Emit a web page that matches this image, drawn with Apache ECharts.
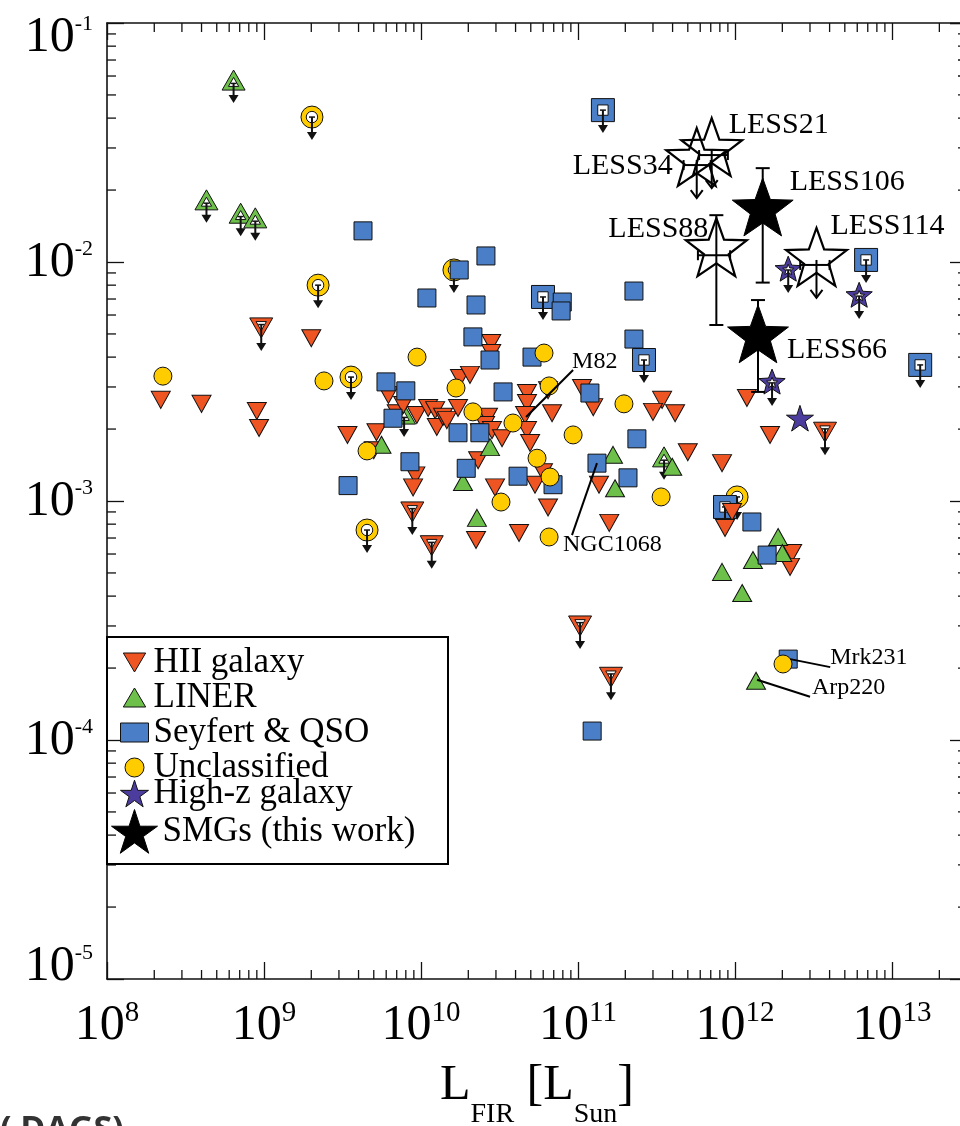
<!DOCTYPE html>
<html><head><meta charset="utf-8">
<script src="https://cdn.jsdelivr.net/npm/echarts@6/dist/echarts.min.js"></script>
<style>html,body{margin:0;padding:0;background:#fff;overflow:hidden}#chart{width:960px;height:1126px}</style>
</head><body><div id="chart"></div>
<script>
// ================= DATA =================
// HII galaxies (detections)
const hiiL = [2.2e8, 4.0e8, 9.0e8, 9.3e8, 2.0e9, 3.4e9, 5.2e9, 5.0e9, 6.2e9, 7.0e9, 7.7e9, 9.4e9, 1.11e10, 1.23e10, 1.26e10, 1.38e10, 1.46e10, 1.72e10, 1.77e10, 2.05e10, 2.8e10, 2.8e10, 2.67e10, 2.56e10, 2.37e10, 2.83e10, 3.28e10, 4.73e10, 4.73e10, 4.6e10, 4.73e10, 4.95e10, 6.44e10, 6.83e10, 1.06e11, 1.25e11, 2.31e10, 9.2e9, 8.9e9, 2.96e10, 5.98e10, 5.32e10, 6.44e10, 4.21e10, 2.24e10, 1.36e11, 1.58e11, 3.43e11, 3.0e11, 4.15e11, 5.0e11, 8.26e11, 1.19e12, 1.67e12, 9.57e11, 8.63e11, 2.31e12, 2.24e12];
const hiiR = [2.65e-3, 2.55e-3, 2.38e-3, 2.02e-3, 4.8e-3, 1.89e-3, 1.94e-3, 1.63e-3, 2.78e-3, 2.33e-3, 2.52e-3, 2.29e-3, 2.45e-3, 2.40e-3, 2.04e-3, 2.25e-3, 2.18e-3, 2.45e-3, 3.27e-3, 3.37e-3, 4.58e-3, 4.16e-3, 2.25e-3, 2.08e-3, 1.94e-3, 1.98e-3, 1.83e-3, 2.83e-3, 2.57e-3, 2.29e-3, 1.98e-3, 1.75e-3, 2.91e-3, 2.33e-3, 2.97e-3, 2.47e-3, 1.48e-3, 1.28e-3, 1.14e-3, 1.14e-3, 1.32e-3, 1.17e-3, 9.4e-4, 7.35e-4, 6.87e-4, 1.17e-3, 8.1e-4, 2.65e-3, 2.36e-3, 2.33e-3, 1.60e-3, 1.44e-3, 2.70e-3, 1.89e-3, 9.0e-4, 7.71e-4, 6.06e-4, 5.3e-4];
// HII galaxies (upper limits)
const hiiUlL = [9.6e8, 8.8e9, 1.17e10, 1.03e11, 1.62e11, 3.74e12];
const hiiUlR = [5.3e-3, 9.0e-4, 6.5e-4, 3.0e-4, 1.83e-4, 1.94e-3];
// LINERs
const linerL = [5.6e9, 2.75e10, 1.85e10, 2.27e10, 1.67e11, 1.72e11, 3.98e11, 1.88e12, 2.0e12, 1.30e12, 8.26e11, 1.11e12, 1.36e12];
const linerR = [1.72e-3, 1.68e-3, 1.2e-3, 8.5e-4, 1.56e-3, 1.13e-3, 1.39e-3, 7.07e-4, 6.06e-4, 5.66e-4, 5.05e-4, 4.12e-4, 1.77e-4];
const linerUlL = [6.4e8, 4.3e8, 7.1e8, 8.8e8, 7.8e9, 3.53e11];
const linerUlR = [5.77e-2, 1.82e-2, 1.60e-2, 1.53e-2, 2.31e-3, 1.53e-3];
// Seyferts & QSOs
const seyL = [4.27e9, 2.59e10, 1.75e10, 1.09e10, 2.24e10, 7.93e10, 7.8e10, 2.27e11, 2.14e10, 2.75e10, 5.09e10, 2.27e11, 5.98e9, 8.0e9, 6.63e9, 3.33e10, 1.19e11, 1.72e10, 2.37e10, 8.5e9, 1.94e10, 4.15e10, 6.93e10, 1.32e11, 2.08e11, 2.37e11, 3.43e9, 1.28e12, 1.6e12, 1.23e11, 2.18e12];
const seyR = [1.35e-2, 1.06e-2, 9.26e-3, 7.07e-3, 6.61e-3, 6.8e-3, 6.24e-3, 7.56e-3, 4.86e-3, 3.89e-3, 4.0e-3, 4.76e-3, 3.15e-3, 2.89e-3, 2.22e-3, 2.86e-3, 2.83e-3, 1.93e-3, 1.93e-3, 1.46e-3, 1.37e-3, 1.27e-3, 1.17e-3, 1.44e-3, 1.25e-3, 1.82e-3, 1.16e-3, 8.17e-4, 5.94e-4, 1.09e-4, 2.18e-4];
const seyUlL = [1.44e11, 5.98e10, 2.63e11, 8.63e11, 6.83e12, 1.51e13];
const seyUlR = [4.32e-2, 7.14e-3, 3.89e-3, 9.44e-4, 1.02e-2, 3.71e-3];
// Unclassified
const uncL = [2.27e8, 2.41e9, 9.43e9, 4.53e9, 1.67e10, 2.14e10, 3.85e10, 6.07e10, 6.54e10, 9.3e10, 5.48e10, 6.63e10, 3.23e10, 6.54e10, 1.96e11, 3.38e11, 2.02e12];
const uncR = [3.33e-3, 3.18e-3, 4.0e-3, 1.62e-3, 2.97e-3, 2.36e-3, 2.12e-3, 4.16e-3, 3.03e-3, 1.89e-3, 1.51e-3, 1.26e-3, 9.9e-4, 7.07e-4, 2.55e-3, 1.04e-3, 2.08e-4];
const uncUlL = [2.02e9, 2.21e9, 3.58e9, 1.62e10, 4.53e9, 1.03e12];
const uncUlR = [4.04e-2, 8.0e-3, 3.3e-3, 9.26e-3, 7.56e-4, 1.04e-3];
// High-z galaxies
const hzL = [2.59e12];
const hzR = [2.22e-3];
const hzUlL = [2.18e12, 6.17e12, 1.72e12];
const hzUlR = [9.26e-3, 7.2e-3, 3.12e-3];
// SMGs (this work)
const smgNames = ['LESS21', 'LESS34', 'LESS106', 'LESS88', 'LESS114', 'LESS66'];
const smgL     = [7.1e11, 5.7e11, 1.5e12, 7.6e11, 3.3e12, 1.4e12];
const smgR     = [2.94e-2, 2.67e-2, 1.65e-2, 1.12e-2, 1.02e-2, 4.86e-3];
const smgRLo   = [null, null, 8.2e-3, 5.45e-3, null, 2.86e-3];
const smgRHi   = [null, null, 2.47e-2, 1.57e-2, null, 6.93e-3];
const smgLLo   = [5.9e11, 4.7e11, null, 5.8e11, 2.6e12, null];
const smgLHi   = [9.0e11, 7.0e11, null, 9.3e11, 4.0e12, null];
const smgUpper = [true, true, false, false, true, false];
const smgFilled = [false, false, true, false, false, true];
// Named local galaxies
const annNames = ['M82', 'NGC1068', 'Mrk231', 'Arp220'];
const annL = [4.6e10, 1.32e11, 2.18e12, 1.36e12];
const annR = [2.29e-3, 1.44e-3, 2.18e-4, 1.77e-4];
// Axis ticks
const xTickExps = [8, 9, 10, 11, 12, 13];
const yTickExps = [-5, -4, -3, -2, -1];
const minorMult = [2, 3, 4, 5, 6, 7, 8, 9];

// ================= STYLE =================
const SERIF = '"Liberation Serif", "Times New Roman", Times, serif';
const C = {hii: '#EE5522', liner: '#6DC04A', sey: '#4A7EC6', unc: '#FFCC00', hz: '#4B3C9E'};
const INK = '#111';
const STAR_PATH = 'path://M0,-1L0.2245,-0.309L0.951,-0.309L0.363,0.118L0.588,0.809L0,0.382L-0.588,0.809L-0.363,0.118L-0.951,-0.309L-0.2245,-0.309Z';
const TRI_DOWN = 'path://M0,0L20,0L10,17Z';
const TRI_UP = 'path://M10,0L20,17L0,17Z';
// SMG label offsets [dx, dy, align]
const smgLabelPos = [[17, -25, 'left'], [-24, 6, 'right'], [27, -28, 'left'], [-8, -21, 'right'], [14, -34, 'left'], [29, 13, 'left']];
// annotation label offsets [textDx, textDy, lineStartDx, lineStartDy, lineEndDx, lineEndDy]
const annPos = [[47, -53, 1, 2, 48, -45], [-34, 82, 0, 0, -25, 72], [42, -1, 2, 0, 42, 8], [56, 7, 1, -1, 54, 16]];

function zip(a, b) { return a.map((v, i) => [v, b[i]]); }
function starPts(cx, cy, R, r) {
  const pts = [];
  for (let i = 0; i < 10; i++) {
    const ang = -Math.PI / 2 + i * Math.PI / 5;
    const rad = i % 2 === 0 ? R : r;
    pts.push([cx + rad * Math.cos(ang), cy + rad * Math.sin(ang)]);
  }
  return pts;
}
function shapePts(shape, cx, cy, s) {
  const h = s / 2;
  if (shape === 'down') return [[cx - h, cy - h * 0.87], [cx + h, cy - h * 0.87], [cx, cy + h * 0.87]];
  if (shape === 'up') return [[cx, cy - h * 0.87], [cx + h, cy + h * 0.87], [cx - h, cy + h * 0.87]];
  if (shape === 'square') return [[cx - h, cy - h], [cx + h, cy - h], [cx + h, cy + h], [cx - h, cy + h]];
  return starPts(cx, cy, h * 1.15, h * 0.5);
}
function shrink(pts, k) {
  let mx = 0, my = 0;
  pts.forEach(p => { mx += p[0]; my += p[1]; });
  mx /= pts.length; my /= pts.length;
  return {c: [mx, my], pts: pts.map(p => [mx + (p[0] - mx) * k, my + (p[1] - my) * k])};
}
function ulRender(shape, color, size) {
  return function (params, api) {
    const p = api.coord([api.value(0), api.value(1)]);
    const cx = p[0], cy = p[1];
    const kids = [];
    let ax = cx, ay = cy;
    if (shape === 'circle') {
      kids.push({type: 'circle', shape: {cx: cx, cy: cy, r: size / 2}, style: {fill: color, stroke: INK, lineWidth: 1}});
      kids.push({type: 'circle', shape: {cx: cx, cy: cy, r: size * 0.26}, style: {fill: '#fff', stroke: INK, lineWidth: 1}});
    } else {
      const outer = shapePts(shape, cx, cy, size);
      const inner = shrink(outer, shape === 'star' ? 0.42 : 0.45);
      ax = inner.c[0]; ay = inner.c[1];
      kids.push({type: 'polygon', shape: {points: outer}, style: {fill: color, stroke: INK, lineWidth: 1}});
      kids.push({type: 'polygon', shape: {points: inner.pts}, style: {fill: '#fff', stroke: INK, lineWidth: 1}});
    }
    kids.push({type: 'line', shape: {x1: ax, y1: ay, x2: ax, y2: cy + 17}, style: {stroke: INK, lineWidth: 2}});
    kids.push({type: 'line', shape: {x1: ax - 3, y1: ay, x2: ax + 3, y2: ay}, style: {stroke: INK, lineWidth: 1.5}});
    kids.push({type: 'polygon', shape: {points: [[ax - 5, cy + 15], [ax + 5, cy + 15], [ax, cy + 23]]}, style: {fill: INK}});
    return {type: 'group', children: kids};
  };
}
function smgRender(params, api) {
  const i = api.value(2);
  const p = api.coord([smgL[i], smgR[i]]);
  const cx = p[0], cy = p[1];
  const kids = [];
  const lw = 2;
  if (smgRLo[i] != null) {
    const yHi = api.coord([smgL[i], smgRHi[i]])[1];
    const yLo = api.coord([smgL[i], smgRLo[i]])[1];
    kids.push({type: 'line', shape: {x1: cx, y1: yHi, x2: cx, y2: yLo}, style: {stroke: '#000', lineWidth: lw}});
    kids.push({type: 'line', shape: {x1: cx - 7, y1: yHi, x2: cx + 7, y2: yHi}, style: {stroke: '#000', lineWidth: lw}});
    kids.push({type: 'line', shape: {x1: cx - 7, y1: yLo, x2: cx + 7, y2: yLo}, style: {stroke: '#000', lineWidth: lw}});
  }
  if (smgLLo[i] != null) {
    const xLo = api.coord([smgLLo[i], smgR[i]])[0];
    const xHi = api.coord([smgLHi[i], smgR[i]])[0];
    const yy = cy + 5;
    kids.push({type: 'line', shape: {x1: xLo, y1: yy, x2: xHi, y2: yy}, style: {stroke: '#000', lineWidth: lw}});
    kids.push({type: 'line', shape: {x1: xLo, y1: yy - 5, x2: xLo, y2: yy + 5}, style: {stroke: '#000', lineWidth: lw}});
    kids.push({type: 'line', shape: {x1: xHi, y1: yy - 5, x2: xHi, y2: yy + 5}, style: {stroke: '#000', lineWidth: lw}});
  }
  if (smgUpper[i]) {
    const tip = cy + 38;
    kids.push({type: 'line', shape: {x1: cx, y1: cy, x2: cx, y2: tip}, style: {stroke: '#000', lineWidth: lw}});
    kids.push({type: 'polyline', shape: {points: [[cx - 6, tip - 8], [cx, tip], [cx + 6, tip - 8]]}, style: {stroke: '#000', lineWidth: lw, fill: 'none'}});
  }
  const star = starPts(cx, cy, 32, 13);
  kids.push({type: 'polygon', shape: {points: star},
    style: smgFilled[i] ? {fill: '#000', stroke: '#000', lineWidth: 1} : {fill: 'none', stroke: '#000', lineWidth: 2.2}});
  const lp = smgLabelPos[i];
  kids.push({type: 'text', x: cx + lp[0], y: cy + lp[1],
    style: {text: smgNames[i], fontSize: 30, fontFamily: SERIF, fill: '#000', align: lp[2], verticalAlign: 'middle'}});
  return {type: 'group', children: kids};
}
function annRender(params, api) {
  const i = api.value(2);
  const p = api.coord([annL[i], annR[i]]);
  const a = annPos[i];
  return {type: 'group', children: [
    {type: 'line', shape: {x1: p[0] + a[2], y1: p[1] + a[3], x2: p[0] + a[4], y2: p[1] + a[5]}, style: {stroke: '#000', lineWidth: 2}},
    {type: 'text', x: p[0] + a[0], y: p[1] + a[1],
      style: {text: annNames[i], fontSize: 24, fontFamily: SERIF, fill: '#000', align: 'left', verticalAlign: 'middle'}}
  ]};
}
// minor ticks (2..9 x 10^n), drawn on all four frame sides
const minorData = [];
xTickExps.forEach(e => minorMult.forEach(m => { const v = m * Math.pow(10, e); if (v > 1e8 && v < 3e13) minorData.push([v, 1e-3, 0]); }));
yTickExps.forEach(e => minorMult.forEach(m => { const v = m * Math.pow(10, e); if (v > 1e-5 && v < 1e-1) minorData.push([1e10, v, 1]); }));
function minorRender(params, api) {
  const cs = params.coordSys;
  const L = 9;
  const st = {stroke: INK, lineWidth: 1.3};
  if (api.value(2) === 0) {
    const x = api.coord([api.value(0), 1e-3])[0];
    return {type: 'group', children: [
      {type: 'line', shape: {x1: x, y1: cs.y + cs.height, x2: x, y2: cs.y + cs.height - L}, style: st},
      {type: 'line', shape: {x1: x, y1: cs.y, x2: x, y2: cs.y + L}, style: st}]};
  }
  const y = api.coord([1e10, api.value(1)])[1];
  return {type: 'group', children: [
    {type: 'line', shape: {x1: cs.x, y1: y, x2: cs.x + L, y2: y}, style: st},
    {type: 'line', shape: {x1: cs.x + cs.width, y1: y, x2: cs.x + cs.width - L, y2: y}, style: st}]};
}

function expOf(v) { return Math.log10(v); }
function tok(size, va, pad, lh) {
  return {fontSize: size, fontFamily: SERIF, color: '#000', lineHeight: lh, verticalAlign: va, padding: pad};
}
const xRich = {b: tok(50, 'bottom', [0, 0, 0, 0], 52), s: tok(29, 'top', [0, 0, 0, 0], 31)};
const yRich = {
  b: tok(50, 'bottom', [0, 0, 0, 0], 52), s: tok(22, 'top', [2, 0, 0, 0], 24),
  gapT: {fontSize: 10, lineHeight: 28, color: 'rgba(0,0,0,0)'},
  gapB: {fontSize: 10, lineHeight: 26, color: 'rgba(0,0,0,0)'}
};
function xFormatter(v) {
  const e = expOf(v);
  if (Math.abs(e - Math.round(e)) > 1e-6) return '';
  return '{b|10}{s|' + Math.round(e) + '}';
}
function yFormatter(v) {
  const e = Math.round(expOf(v));
  const main = '{b|10}{s|' + e + '}';
  if (e === -1) return '{gapT| }\n' + main;
  if (e === -5) return main + '\n{gapB| }';
  return main;
}

const axisLineStyle = {color: INK, width: 1.6};
const scatterBase = (name, data, symbol, size, color, z) => ({
  type: 'scatter', name: name, data: data, symbol: symbol, symbolSize: size, symbolKeepAspect: symbol === STAR_PATH,
  itemStyle: {color: color, borderColor: INK, borderWidth: 1, opacity: 1}, z: z, emphasis: {disabled: true}, silent: true
});
const ulSeries = (name, L, R, shape, color, size) => ({
  type: 'custom', name: name, renderItem: ulRender(shape, color, size), data: zip(L, R), encode: {x: 0, y: 1}, z: 2, silent: true
});

const option = {
  animation: false,
  backgroundColor: '#fff',
  grid: {left: 107, top: 23, width: 860, height: 956, containLabel: false, outerBoundsMode: 'none'},
  xAxis: [{
    type: 'log', logBase: 10, min: 1e8, max: 3e13, position: 'bottom',
    axisLine: {show: true, onZero: false, lineStyle: axisLineStyle},
    axisTick: {show: true, inside: true, length: 17, lineStyle: {color: INK, width: 1.3}},
    splitLine: {show: false}, minorTick: {show: false},
    axisLabel: {show: true, margin: 20, formatter: xFormatter, rich: xRich, hideOverlap: false},
    name: '{m|L}{sub|FIR}{m| [L}{sub|Sun}{m|]}',
    nameLocation: 'middle', nameGap: 82,
    nameTextStyle: {rich: {
      m: {fontSize: 50, fontFamily: SERIF, color: '#000', lineHeight: 50, verticalAlign: 'top'},
      sub: {fontSize: 28, fontFamily: SERIF, color: '#000', lineHeight: 28, verticalAlign: 'top', padding: [40, 0, 0, 0]}
    }}
  }, {
    type: 'log', logBase: 10, min: 1e8, max: 3e13, position: 'top',
    axisLine: {show: true, onZero: false, lineStyle: axisLineStyle},
    axisTick: {show: true, inside: true, length: 17, lineStyle: {color: INK, width: 1.3}},
    axisLabel: {show: false}, splitLine: {show: false}
  }],
  yAxis: [{
    type: 'log', logBase: 10, min: 1e-5, max: 1e-1, position: 'left',
    axisLine: {show: true, onZero: false, lineStyle: axisLineStyle},
    axisTick: {show: true, inside: true, length: 17, lineStyle: {color: INK, width: 1.3}},
    splitLine: {show: false}, minorTick: {show: false},
    axisLabel: {show: true, margin: 14, formatter: yFormatter, rich: yRich, hideOverlap: false}
  }, {
    type: 'log', logBase: 10, min: 1e-5, max: 1e-1, position: 'right',
    axisLine: {show: true, onZero: false, lineStyle: axisLineStyle},
    axisTick: {show: true, inside: true, length: 17, lineStyle: {color: INK, width: 1.3}},
    axisLabel: {show: false}, splitLine: {show: false}
  }],
  legend: [{
    orient: 'vertical', left: 120, top: 645, padding: 0, itemGap: 0, itemWidth: 28, itemHeight: 19,
    selectedMode: false, symbolKeepAspect: true,
    textStyle: {fontFamily: SERIF, fontSize: 35, color: '#000', lineHeight: 33},
    data: [
      {name: 'HII galaxy', icon: TRI_DOWN, itemStyle: {color: C.hii, borderColor: INK, borderWidth: 1}},
      {name: 'LINER', icon: TRI_UP, itemStyle: {color: C.liner, borderColor: INK, borderWidth: 1}},
      {name: 'Seyfert & QSO', icon: 'rect', itemStyle: {color: C.sey, borderColor: INK, borderWidth: 1}},
      {name: 'Unclassified', icon: 'circle', itemStyle: {color: C.unc, borderColor: INK, borderWidth: 1}}
    ]
  }, {
    orient: 'vertical', left: 120, top: 776, padding: 0, itemGap: 0, itemWidth: 28, itemHeight: 28,
    selectedMode: false, symbolKeepAspect: true,
    textStyle: {fontFamily: SERIF, fontSize: 35, color: '#000', lineHeight: 33},
    data: [{name: 'High-z galaxy', icon: STAR_PATH, itemStyle: {color: C.hz, borderColor: INK, borderWidth: 1}}]
  }, {
    orient: 'vertical', left: 111, top: 809, padding: 0, itemGap: 0, itemWidth: 46, itemHeight: 46,
    selectedMode: false, symbolKeepAspect: true,
    textStyle: {fontFamily: SERIF, fontSize: 35, color: '#000', lineHeight: 33},
    data: [{name: 'SMGs (this work)', icon: STAR_PATH, itemStyle: {color: '#000', borderColor: '#000', borderWidth: 1}}]
  }],
  graphic: [
    {type: 'rect', shape: {x: 107, y: 637, width: 341, height: 227}, style: {fill: 'none', stroke: '#000', lineWidth: 2}, z: 10, silent: true},
    {type: 'text', left: 0, top: 1113, style: {text: '( DAGS)', font: 'bold 34px "Open Sans", "Liberation Sans", sans-serif', fill: '#333'}, z: 10, silent: true}
  ],
  series: [
    scatterBase('HII galaxy', zip(hiiL, hiiR), TRI_DOWN, [19, 17], C.hii, 3),
    scatterBase('LINER', zip(linerL, linerR), TRI_UP, [19, 17], C.liner, 3),
    scatterBase('Seyfert & QSO', zip(seyL, seyR), 'rect', 18, C.sey, 3),
    scatterBase('Unclassified', zip(uncL, uncR), 'circle', 18, C.unc, 3),
    scatterBase('High-z galaxy', zip(hzL, hzR), STAR_PATH, 27, C.hz, 3),
    ulSeries('HII galaxy', hiiUlL, hiiUlR, 'down', C.hii, 23),
    ulSeries('LINER', linerUlL, linerUlR, 'up', C.liner, 23),
    ulSeries('Unclassified', uncUlL, uncUlR, 'circle', C.unc, 22),
    ulSeries('Seyfert & QSO', seyUlL, seyUlR, 'square', C.sey, 23),
    ulSeries('High-z galaxy', hzUlL, hzUlR, 'star', C.hz, 24),
    {type: 'custom', name: 'SMGs (this work)', renderItem: smgRender, data: smgL.map((v, i) => [v, smgR[i], i]), encode: {x: 0, y: 1}, z: 5, silent: true},
    {type: 'custom', name: 'labels', renderItem: annRender, data: annL.map((v, i) => [v, annR[i], i]), encode: {x: 0, y: 1}, z: 6, silent: true},
    {type: 'custom', name: 'minorTicks', renderItem: minorRender, data: minorData, encode: {x: 0, y: 1}, z: 7, silent: true}
  ]
};
const chart = echarts.init(document.getElementById('chart'), null, {renderer: 'canvas'});
chart.setOption(option);
</script>
</body></html>
